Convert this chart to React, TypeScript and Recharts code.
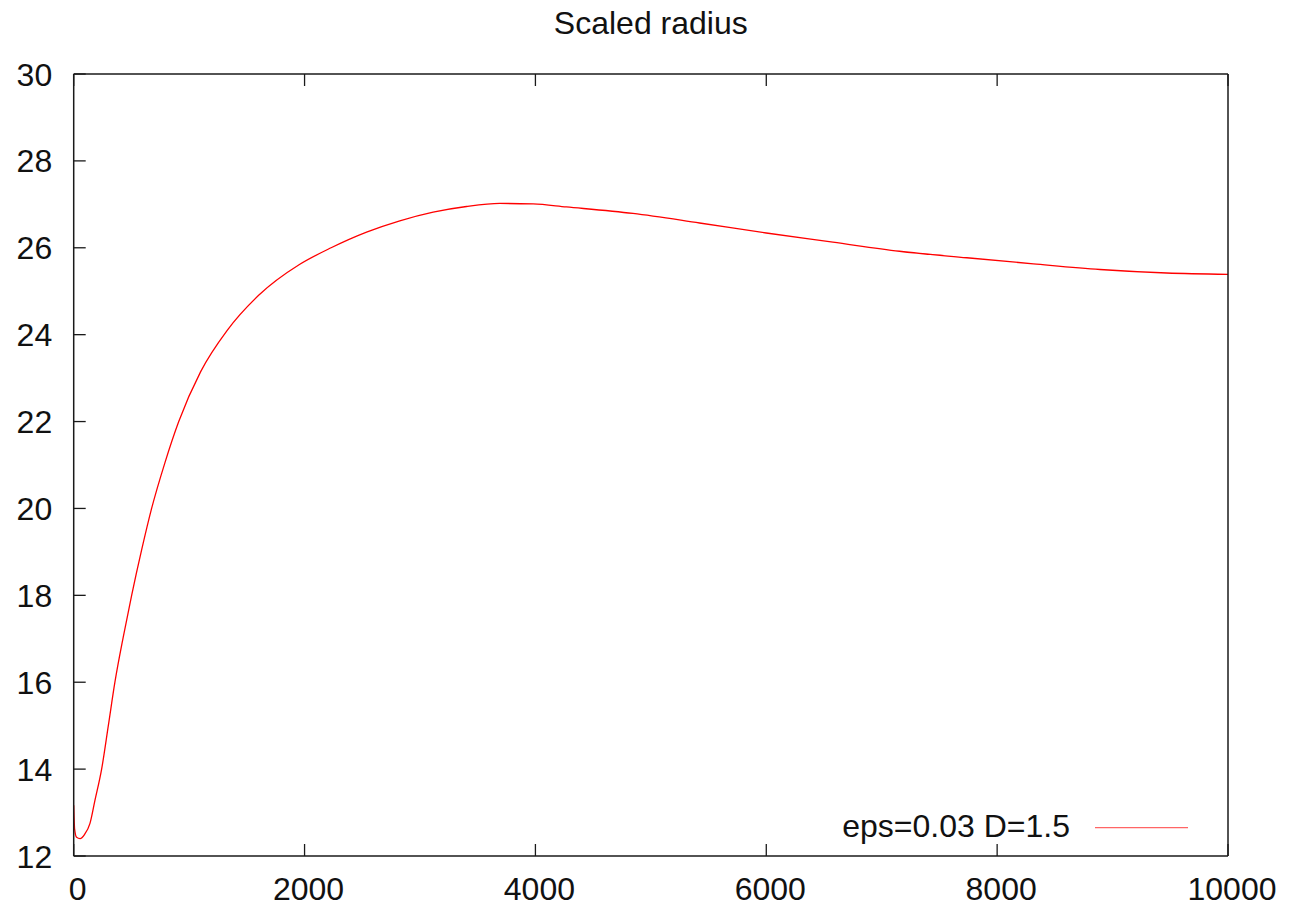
import React from "react";
import { LineChart, Line, XAxis, YAxis } from "recharts";

const TITLE = "Scaled radius";
const SERIES_NAME = "eps=0.03 D=1.5";
const LINE_COLOR = "#ff0000";
const FONT = "'Liberation Sans', Arial, Helvetica, sans-serif";

const xValues = [
  0, 8, 25, 55, 95, 141, 184, 242, 300, 357, 430, 502, 589, 675, 790, 910, 1100,
  1330, 1600, 1959, 2230, 2537, 2825, 3114, 3403, 3691, 3980, 4268, 4845, 5422,
  6000, 6577, 7154, 7737, 8314, 8891, 9468, 10000,
];
const yValues = [
  13.17, 12.62, 12.43, 12.4, 12.5, 12.75, 13.28, 14.0, 15.0, 16.0, 17.05, 18.0,
  19.05, 20.0, 21.05, 22.0, 23.15, 24.1, 24.9, 25.62, 26.0, 26.36, 26.62, 26.82,
  26.95, 27.02, 27.01, 26.94, 26.79, 26.57, 26.34, 26.13, 25.92, 25.77, 25.63,
  25.5, 25.42, 25.39,
];
const xTicks = [0, 2000, 4000, 6000, 8000, 10000];
const yTicks = [12, 14, 16, 18, 20, 22, 24, 26, 28, 30];

const data = xValues.map((x, i) => ({ x, r: yValues[i] }));

const TICK_LEN = 12;
const FRAME = "#1a1a1a";

const BottomTick = (props: any) => {
  const { x, y, payload } = props;
  return (
    <g>
      <line x1={x} x2={x} y1={y} y2={y - TICK_LEN} stroke={FRAME} strokeWidth={1.3} />
      <text x={x + 4} y={y + 43.5} textAnchor="middle" fontSize={32} fontFamily={FONT} fill="#111">
        {payload.value}
      </text>
    </g>
  );
};
const TopTick = (props: any) => {
  const { x, y } = props;
  return <line x1={x} x2={x} y1={y} y2={y + TICK_LEN} stroke={FRAME} strokeWidth={1.3} />;
};
const LeftTick = (props: any) => {
  const { x, y, payload } = props;
  return (
    <g>
      <line x1={x} x2={x + TICK_LEN} y1={y} y2={y} stroke={FRAME} strokeWidth={1.3} />
      <text x={x - 21.5} y={y + 11.5} textAnchor="end" fontSize={32} fontFamily={FONT} fill="#111">
        {payload.value}
      </text>
    </g>
  );
};
const RightTick = (props: any) => {
  const { x, y } = props;
  return <line x1={x} x2={x - TICK_LEN} y1={y} y2={y} stroke={FRAME} strokeWidth={1.3} />;
};

export default function App() {
  return (
    <div style={{ position: "absolute", left: 0, top: 0, width: 1293, height: 906, background: "#fff" }}>
      <LineChart
        width={1293}
        height={906}
        data={data}
        margin={{ top: 64, right: 55, bottom: 0, left: 0 }}
      >
        <XAxis
          dataKey="x"
          type="number"
          domain={[0, 10000]}
          ticks={xTicks}
          height={50}
          tickSize={0}
          tickMargin={0}
          tickLine={false}
          axisLine={{ stroke: FRAME, strokeWidth: 1.5 }}
          tick={<BottomTick />}
          interval={0}
          allowDataOverflow
        />
        <XAxis
          xAxisId="top"
          orientation="top"
          dataKey="x"
          type="number"
          domain={[0, 10000]}
          ticks={xTicks}
          height={10}
          tickSize={0}
          tickMargin={0}
          tickLine={false}
          axisLine={{ stroke: FRAME, strokeWidth: 1.5 }}
          tick={<TopTick />}
          interval={0}
        />
        <YAxis
          type="number"
          domain={[12, 30]}
          ticks={yTicks}
          width={73.7}
          tickSize={0}
          tickMargin={0}
          tickLine={false}
          axisLine={{ stroke: FRAME, strokeWidth: 1.5 }}
          tick={<LeftTick />}
          interval={0}
          allowDataOverflow
        />
        <YAxis
          yAxisId="right"
          orientation="right"
          type="number"
          domain={[12, 30]}
          ticks={yTicks}
          width={10}
          tickSize={0}
          tickMargin={0}
          tickLine={false}
          axisLine={{ stroke: FRAME, strokeWidth: 1.5 }}
          tick={<RightTick />}
          interval={0}
        />
        <Line
          dataKey="r"
          name={SERIES_NAME}
          type="monotone"
          stroke={LINE_COLOR}
          strokeWidth={1.3}
          dot={false}
          isAnimationActive={false}
        />
      </LineChart>
      <svg
        width={1293}
        height={906}
        style={{ position: "absolute", left: 0, top: 0, pointerEvents: "none" }}
      >
        <text x={650.8} y={33.5} textAnchor="middle" fontSize={32} fontFamily={FONT} fill="#111">
          {TITLE}
        </text>
        <text x={1070} y={836.7} textAnchor="end" fontSize={32} fontFamily={FONT} fill="#111">
          {SERIES_NAME}
        </text>
        <line x1={1095} x2={1188} y1={827.7} y2={827.7} stroke={LINE_COLOR} strokeWidth={1.3} opacity={0.6} />
      </svg>
    </div>
  );
}
